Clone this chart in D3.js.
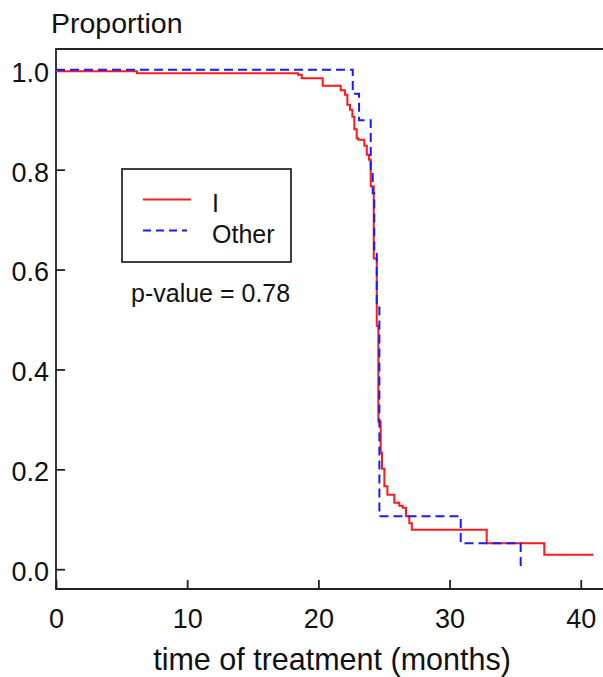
<!DOCTYPE html>
<html>
<head>
<meta charset="utf-8">
<script src="https://cdn.jsdelivr.net/npm/d3@7"></script>
<style>
  html, body { margin: 0; padding: 0; background: #fff; }
  svg { display: block; font-family: "Liberation Sans", Arial, sans-serif; }
</style>
</head>
<body>
<div id="chart"></div>
<script>
// Kaplan-Meier style step curves
const groups = ["I", "Other"];
const pValue = "0.78";

// group "I" (red, solid)
const timesI = [0, 6.17, 18.45, 18.73, 20.33, 21.7, 22.03, 22.21, 22.41, 22.59, 22.74, 22.92, 23.04, 23.5, 23.69, 23.86, 23.99, 24.22, 24.45, 24.57, 24.75, 24.85, 25.03, 25.26, 25.79, 26.17, 26.43, 26.68, 26.93, 27.12, 32.83, 37.22, 40.96];
const propI = [0.997, 0.993, 0.99, 0.983, 0.968, 0.959, 0.95, 0.93, 0.92, 0.906, 0.881, 0.863, 0.86, 0.848, 0.83, 0.82, 0.767, 0.622, 0.487, 0.296, 0.233, 0.201, 0.166, 0.149, 0.133, 0.127, 0.123, 0.106, 0.092, 0.079, 0.052, 0.029, 0.029];

// group "Other" (blue, dashed)
const timesOther = [0, 22.62, 23.1, 23.99, 24.14, 24.26, 24.45, 24.65, 30.85, 35.42];
const propOther = [1.0, 0.952, 0.899, 0.797, 0.753, 0.635, 0.524, 0.106, 0.052, 0.0];

const xTicks = [0, 10, 20, 30, 40];
const yTicks = [0, 0.2, 0.4, 0.6, 0.8, 1.0];

const width = 603;
const height = 677;
const margin = { top: 49, right: -4, bottom: 88, left: 56 };
const fontFamily = "'Liberation Sans', Arial, sans-serif";

const x = d3.scaleLinear()
  .domain([0, 42])
  .range([margin.left, width - margin.right]);

const y = d3.scaleLinear()
  .domain([-0.0396, 1.0416])
  .range([height - margin.bottom, margin.top]);

const line = d3.line()
  .x((d) => x(d[0]))
  .y((d) => y(d[1]))
  .curve(d3.curveStepAfter);

const series = [
  { name: groups[0], points: d3.zip(timesI, propI), color: "#ff1a1a", dash: null },
  { name: groups[1], points: d3.zip(timesOther, propOther), color: "#1a1aff", dash: "9,5" },
];

const svg = d3.select("#chart")
  .append("svg")
  .attr("width", width)
  .attr("height", height)
  .attr("viewBox", [0, 0, width, height]);

// y axis, ticks pointing inward
svg.append("g")
  .attr("transform", `translate(${margin.left},0)`)
  .call(d3.axisLeft(y).tickValues(yTicks).tickFormat(d3.format(".1f")).tickSize(-9).tickPadding(7))
  .call((g) => g.select(".domain").remove())
  .call((g) => g.selectAll(".tick line").attr("stroke", "#222").attr("stroke-width", 1.8))
  .call((g) => g.selectAll(".tick text")
    .attr("dy", "0.42em")
    .attr("fill", "#111")
    .style("font-size", "27px")
    .style("font-family", fontFamily));

// x axis
svg.append("g")
  .attr("transform", `translate(0,${height - margin.bottom})`)
  .call(d3.axisBottom(x).tickValues(xTicks).tickFormat(d3.format("d")).tickSize(-9).tickPadding(20))
  .call((g) => g.select(".domain").remove())
  .call((g) => g.selectAll(".tick line").attr("stroke", "#222").attr("stroke-width", 1.8))
  .call((g) => g.selectAll(".tick text")
    .attr("fill", "#111")
    .style("font-size", "27px")
    .style("font-family", fontFamily));

// plot frame
svg.append("path")
  .attr("d", `M${x.range()[1]},${margin.top}H${margin.left}V${height - margin.bottom}H${x.range()[1]}`)
  .attr("fill", "none")
  .attr("stroke", "#222")
  .attr("stroke-width", 1.8);

// titles
svg.append("text")
  .attr("x", 51)
  .attr("y", 33)
  .attr("fill", "#111")
  .style("font-size", "28.5px")
  .text("Proportion");

svg.append("text")
  .attr("x", 332)
  .attr("y", 670)
  .attr("text-anchor", "middle")
  .attr("fill", "#111")
  .style("font-size", "30.5px")
  .text("time of treatment (months)");

// curves (blue drawn on top of red)
svg.append("g")
  .selectAll("path")
  .data(series)
  .join("path")
  .attr("d", (d) => line(d.points))
  .attr("fill", "none")
  .attr("stroke", (d) => d.color)
  .attr("stroke-width", 2)
  .attr("stroke-dasharray", (d) => d.dash);

// legend
const legend = svg.append("g").attr("class", "legend");

legend.append("rect")
  .attr("x", 122)
  .attr("y", 169)
  .attr("width", 169)
  .attr("height", 93)
  .attr("fill", "#fff")
  .attr("stroke", "#111")
  .attr("stroke-width", 1.6);

const item = legend.selectAll(".item")
  .data(series)
  .join("g")
  .attr("class", "item")
  .attr("transform", (d, i) => `translate(0,${199.5 + i * 31})`);

item.append("line")
  .attr("x1", 143)
  .attr("x2", (d) => (d.dash ? 187 : 191))
  .attr("stroke", (d) => d.color)
  .attr("stroke-width", 2)
  .attr("stroke-dasharray", (d) => (d.dash ? "8,5" : null));

item.append("text")
  .attr("x", 212)
  .attr("y", 12)
  .attr("fill", "#111")
  .style("font-size", "25px")
  .text((d) => d.name);

svg.append("text")
  .attr("x", 131)
  .attr("y", 302)
  .attr("fill", "#111")
  .style("font-size", "25px")
  .text(`p-value = ${pValue}`);
</script>
</body>
</html>
